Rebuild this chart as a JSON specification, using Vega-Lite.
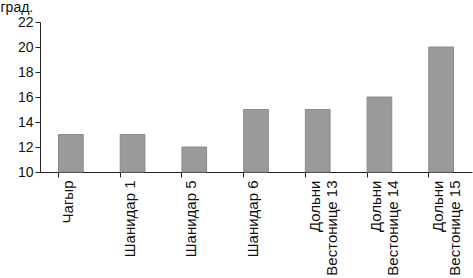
{
  "$schema": "https://vega.github.io/schema/vega-lite/v6.json",
  "width": 432,
  "height": 150,
  "autosize": "none",
  "padding": {"left": 40, "top": 22, "right": 1, "bottom": 106},
  "background": "white",
  "data": {"values": [
    {"name": "Чагыр", "value": 13},
    {"name": "Шанидар 1", "value": 13},
    {"name": "Шанидар 5", "value": 12},
    {"name": "Шанидар 6", "value": 15},
    {"name": "Дольни|Вестонице 13", "value": 15},
    {"name": "Дольни|Вестонице 14", "value": 16},
    {"name": "Дольни|Вестонице 15", "value": 20}
  ]},
  "config": {
    "view": {"stroke": null},
    "font": "Liberation Sans",
    "axis": {"labelFont": "Liberation Sans", "titleFont": "Liberation Sans", "labelColor": "#111", "titleColor": "#111", "domainColor": "#222", "tickColor": "#222", "grid": false}
  },
  "mark": {"type": "bar", "color": "#9a9a9a", "stroke": "#8a8a8a", "strokeWidth": 1},
  "encoding": {
    "x": {
      "field": "name", "type": "nominal", "sort": null,
      "scale": {"paddingInner": 0.6, "paddingOuter": 0.3},
      "axis": {
        "title": null, "labelAngle": -90, "labelFontSize": 15, "labelLineHeight": 17,
        "labelExpr": "split(datum.label, '|')", "bandPosition": 0, "tickSize": 5,
        "labelPadding": 3, "labelLimit": 200, "labelOverlap": false, "labelOffset": -3
      }
    },
    "y": {
      "field": "value", "type": "quantitative",
      "scale": {"domain": [10, 22], "nice": false, "zero": false},
      "axis": {
        "values": [10, 12, 14, 16, 18, 20, 22], "labelFontSize": 14, "tickSize": 5, "labelPadding": 2,
        "title": "град.", "titleAngle": 0, "titleAlign": "left", "titleBaseline": "top",
        "titleX": -40, "titleY": -22, "titleFontSize": 14, "titleFontWeight": "normal"
      }
    },
    "y2": {"datum": 10}
  }
}
